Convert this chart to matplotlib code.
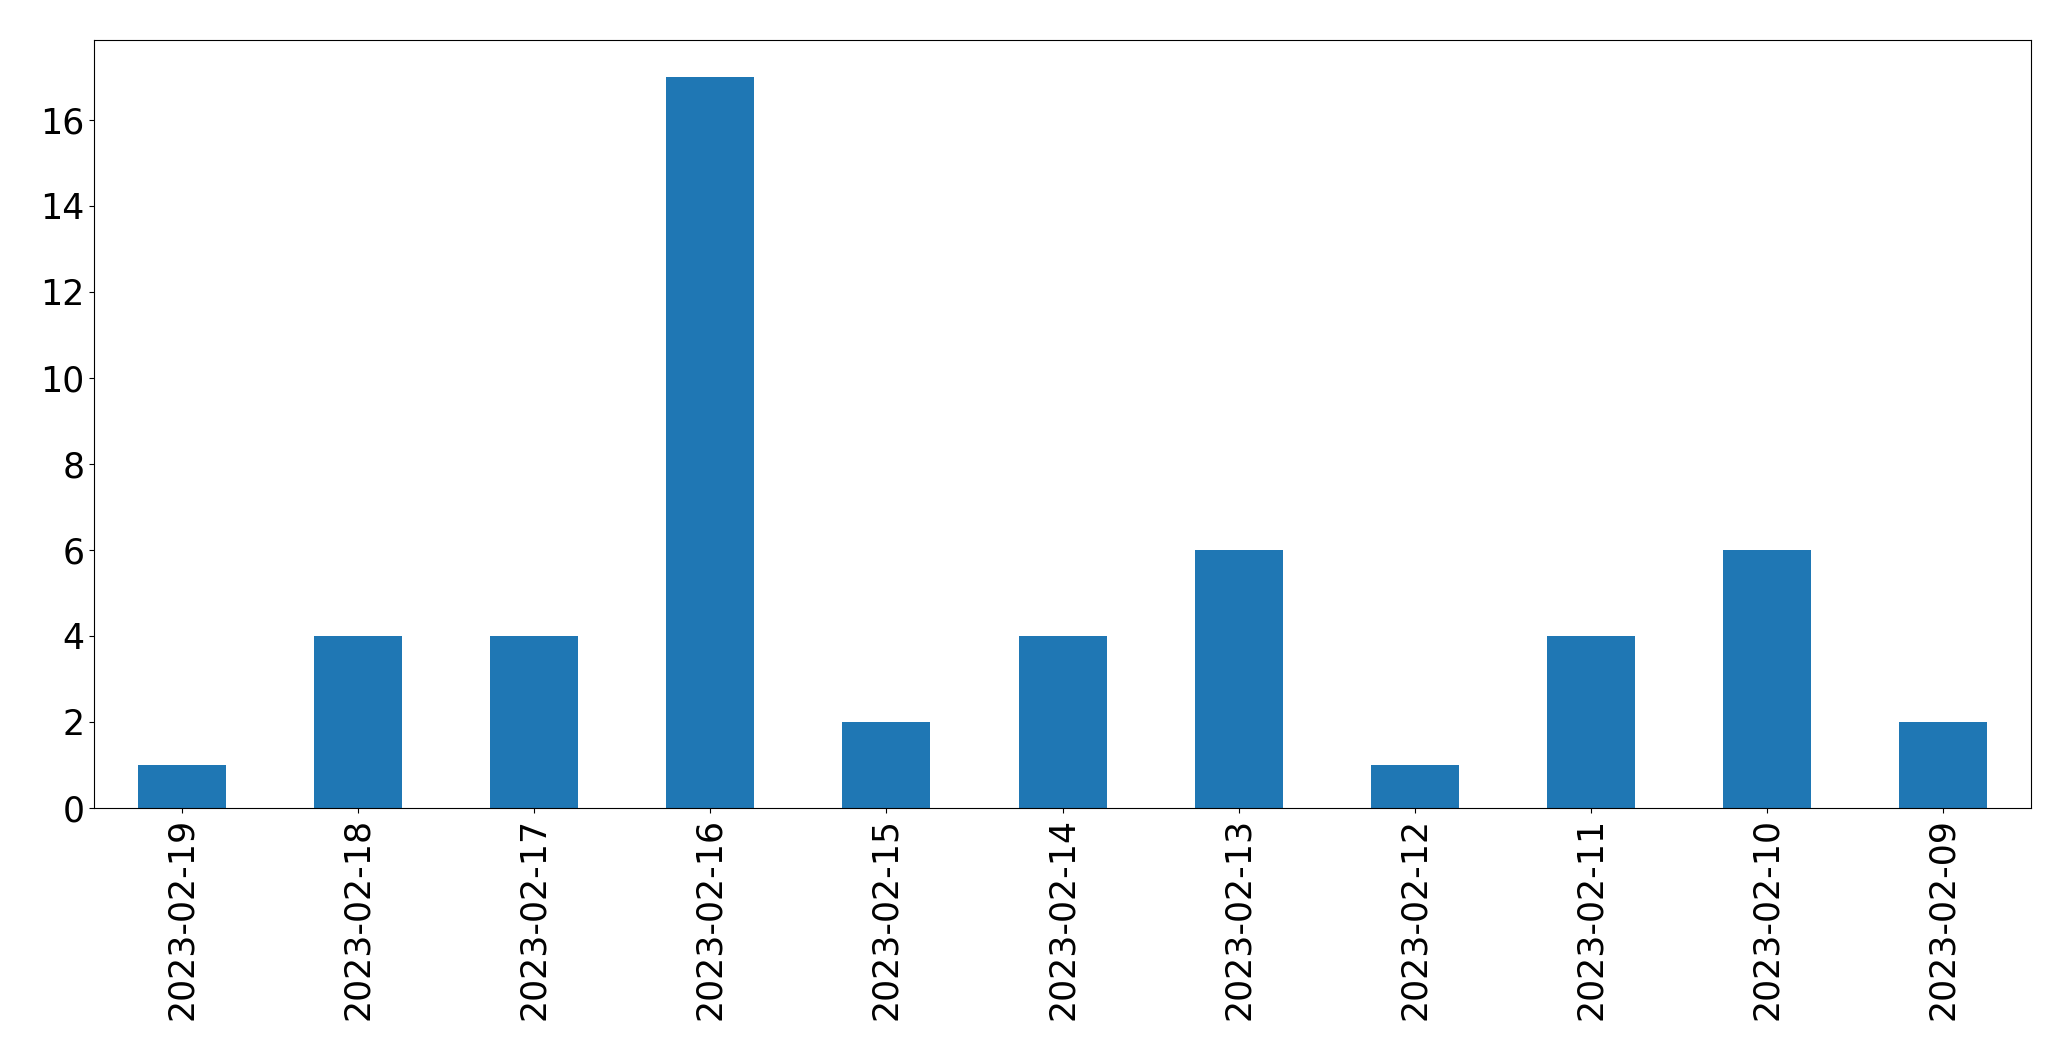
import matplotlib
matplotlib.use("Agg")
import matplotlib.pyplot as plt
import pandas as pd

dates = ["2023-02-19", "2023-02-18", "2023-02-17", "2023-02-16", "2023-02-15",
         "2023-02-14", "2023-02-13", "2023-02-12", "2023-02-11", "2023-02-10",
         "2023-02-09"]
counts = [1, 4, 4, 17, 2, 4, 6, 1, 4, 6, 2]

s = pd.Series(counts, index=dates)

fig, ax = plt.subplots(figsize=(20.71, 10.61), dpi=100)
s.plot(kind="bar", ax=ax, color="#1f77b4")
ax.tick_params(axis="both", labelsize=25)
ax.set_yticks(range(0, 17, 2))
fig.subplots_adjust(left=0.0454, right=0.9807, top=0.962, bottom=0.2385)
fig.savefig("out.png", dpi=100)
